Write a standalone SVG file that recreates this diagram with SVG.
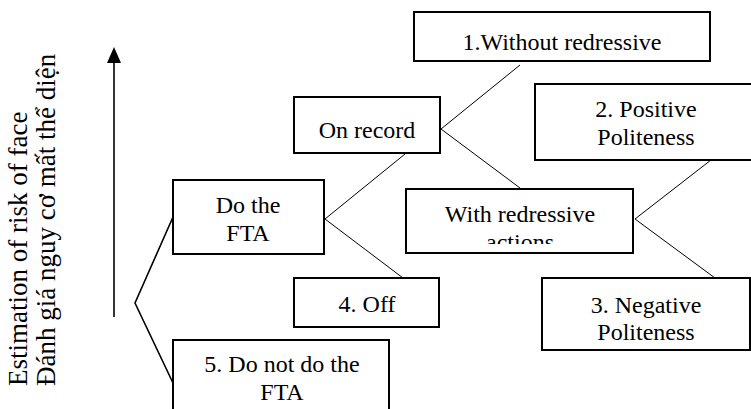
<svg xmlns="http://www.w3.org/2000/svg" width="751" height="409" viewBox="0 0 751 409">
<style>
.box{fill:#fff;stroke:#000;stroke-width:2}
.t{font-family:"Liberation Serif","Times New Roman",serif;font-size:24px;fill:#000;text-anchor:middle}
.v{font-family:"Liberation Serif","Times New Roman",serif;font-size:27px;fill:#000}
.c{stroke:#000;stroke-width:1;fill:none}
.b{stroke:#000;stroke-width:1.6;fill:none}
</style>
<defs>
<marker id="ah" viewBox="0 0 14 16" refX="7" refY="1" markerWidth="14" markerHeight="16" markerUnits="userSpaceOnUse" orient="auto-start-reverse">
<path d="M7,0 L14,16 L0,16 Z" fill="#000"/>
</marker>
<clipPath id="clipWR"><rect x="406" y="189" width="227" height="55"/></clipPath>
<clipPath id="clipW1"><rect x="414" y="12" width="296" height="40"/></clipPath>
</defs>
<g id="axis">
<line x1="114" y1="317" x2="114" y2="62" class="b"/>
<path d="M114,47 L121,63 L107,63 Z" fill="#000"/>
<text class="v" transform="translate(27,386) rotate(-90)">Estimation of risk of face</text>
<text class="v" transform="translate(55,386) rotate(-90)">Đánh giá nguy cơ mất thể diện</text>
</g>
<g id="connectors">
<polyline class="b" points="173,217 135,303 173,383"/>
<line class="c" x1="325" y1="219" x2="405" y2="154"/>
<line class="c" x1="325" y1="219" x2="403" y2="278"/>
<line class="c" x1="441" y1="129" x2="520" y2="65"/>
<line class="c" x1="441" y1="129" x2="520" y2="188"/>
<line class="c" x1="635" y1="219" x2="711" y2="160"/>
<line class="c" x1="635" y1="219" x2="715" y2="278"/>
</g>
<g id="n1">
<rect class="box" x="414" y="12" width="296" height="49"/>
<text class="t" x="562" y="50" clip-path="url(#clipW1)">1.Without redressive</text>
</g>
<g id="onrecord">
<rect class="box" x="294" y="97" width="146" height="56"/>
<text class="t" x="367" y="138">On record</text>
</g>
<g id="n2">
<rect class="box" x="535" y="84" width="222" height="76"/>
<text class="t" x="646" y="117">2. Positive</text>
<text class="t" x="646" y="145">Politeness</text>
</g>
<g id="dofta">
<rect class="box" x="173" y="180" width="151" height="74"/>
<text class="t" x="248" y="213">Do the</text>
<text class="t" x="248" y="241">FTA</text>
</g>
<g id="withred">
<rect class="box" x="406" y="189" width="227" height="64"/>
<g clip-path="url(#clipWR)">
<text class="t" x="520" y="222">With redressive</text>
<text class="t" x="520" y="250">actions</text>
</g>
</g>
<g id="n4">
<rect class="box" x="294" y="278" width="145" height="49"/>
<text class="t" x="367" y="312">4. Off</text>
</g>
<g id="n3">
<rect class="box" x="542" y="278" width="208" height="72"/>
<text class="t" x="646" y="313">3. Negative</text>
<text class="t" x="646" y="340">Politeness</text>
</g>
<g id="n5">
<rect class="box" x="173" y="340" width="216" height="80"/>
<text class="t" x="282" y="372">5. Do not do the</text>
<text class="t" x="282" y="400">FTA</text>
</g>
</svg>
